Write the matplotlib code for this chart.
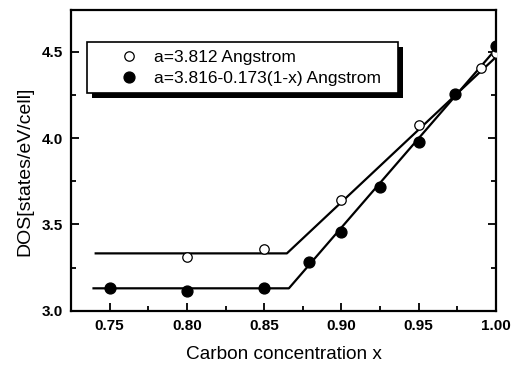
import matplotlib
matplotlib.use("Agg")
import matplotlib.pyplot as plt
from matplotlib.patches import Rectangle
from matplotlib.ticker import MultipleLocator, FormatStrFormatter

plt.rcParams["font.family"] = ["Liberation Sans", "DejaVu Sans"]

# constant lattice parameter
x_open = [0.80, 0.85, 0.90, 0.95, 0.99, 1.00]
dos_open = [3.314, 3.358, 3.642, 4.073, 4.403, 4.49]
fit_open_x = [0.741, 0.8647, 1.00]
fit_open_y = [3.333, 3.333, 4.468]

# Vegard-type lattice parameter
x_fill = [0.75, 0.80, 0.85, 0.879, 0.90, 0.9247, 0.95, 0.9737, 1.00]
dos_fill = [3.135, 3.116, 3.135, 3.285, 3.455, 3.715, 3.979, 4.254, 4.532]
fit_fill_x = [0.7396, 0.866, 1.00]
fit_fill_y = [3.131, 3.131, 4.515]

label_open = "a=3.812 Angstrom"
label_fill = "a=3.816-0.173(1-x) Angstrom"

fig = plt.figure(figsize=(5.18, 3.65), dpi=100)
ax = fig.add_axes([0.137, 0.148, 0.8205, 0.8246])

ax.plot(fit_open_x, fit_open_y, color="black", lw=1.6, zorder=2)
ax.plot(fit_fill_x, fit_fill_y, color="black", lw=1.6, zorder=2)
ax.plot(x_open, dos_open, "o", ms=6.8, mfc="white", mec="black", mew=0.9,
        label=label_open, zorder=3)
ax.plot(x_fill, dos_fill, "o", ms=7.8, mfc="black", mec="black",
        label=label_fill, zorder=4)

ax.set_xlim(0.725, 1.0)
ax.set_ylim(3.0, 4.74)
ax.xaxis.set_major_locator(MultipleLocator(0.05))
ax.xaxis.set_minor_locator(MultipleLocator(0.025))
ax.yaxis.set_major_locator(MultipleLocator(0.5))
ax.yaxis.set_minor_locator(MultipleLocator(0.25))
ax.xaxis.set_major_formatter(FormatStrFormatter("%.2f"))
ax.yaxis.set_major_formatter(FormatStrFormatter("%.1f"))

ax.tick_params(which="both", direction="in", top=False, right=True, width=1.3)
ax.tick_params(which="major", length=6, labelsize=11, pad=6)
ax.tick_params(which="minor", length=3.5)
for lab in ax.get_xticklabels() + ax.get_yticklabels():
    lab.set_fontweight("bold")
for sp in ax.spines.values():
    sp.set_linewidth(1.6)

ax.set_xlabel("Carbon concentration x", fontsize=13.7, labelpad=9)
ax.set_ylabel("DOS[states/eV/cell]", fontsize=14)
ax.yaxis.set_label_coords(-0.089, 0.465)

leg = ax.legend(loc="upper left", bbox_to_anchor=(0.0376, 0.731, 0.7318, 0.163),
                mode="expand", fontsize=12.5, frameon=True, fancybox=False,
                framealpha=1, edgecolor="black", handletextpad=-0.6,
                borderpad=0.45, labelspacing=0.32, handlelength=4.0,
                borderaxespad=0)
leg.get_frame().set_linewidth(1.2)
leg.set_zorder(20)

# solid drop shadow under the legend box
fig.canvas.draw()
bb = leg.get_window_extent().transformed(fig.transFigure.inverted())
dx, dy = 5 / 518, 5 / 365
ax.add_patch(Rectangle((bb.x0 + dx, bb.y0 - dy), bb.width, bb.height,
                       transform=fig.transFigure, facecolor="black",
                       edgecolor="none", zorder=15, clip_on=False))

fig.savefig("out.png", dpi=100)
